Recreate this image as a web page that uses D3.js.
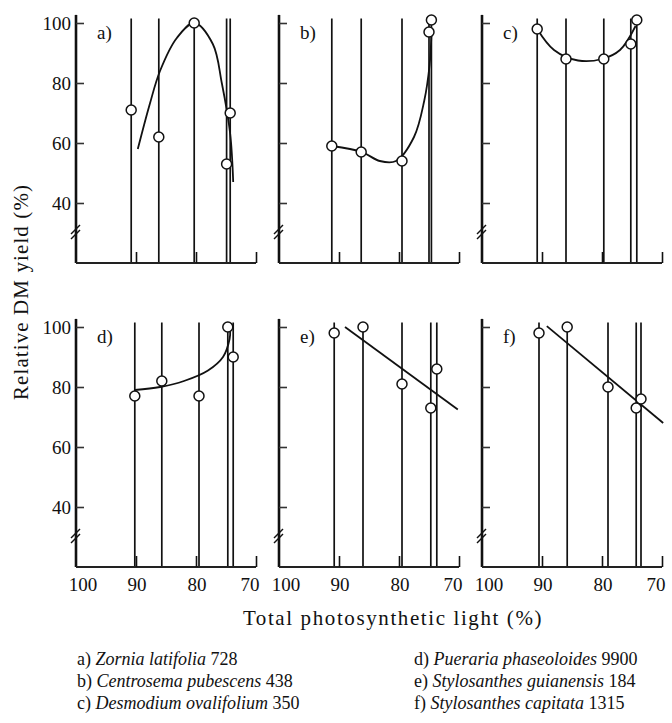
<!DOCTYPE html>
<html>
<head>
<meta charset="utf-8">
<script src="https://cdn.jsdelivr.net/npm/d3@7"></script>
<style>
  body { margin: 0; background: #fff; }
  text { font-family: "Liberation Serif", "DejaVu Serif", serif; fill: #111; }
</style>
</head>
<body>
<div id="chart"></div>
<script>
// Panel letters and tick values
const panelLabels = ["a)", "b)", "c)", "d)", "e)", "f)"];
const yTicks = [40, 60, 80, 100];
const xTicks = [100, 90, 80, 70];

// Observed points: light (%) and relative yield (%)
const lightA = [90.8, 86.2, 80.3, 74.3, 74.9];
const yieldA = [71, 62, 100, 70, 53];
const lightB = [91.2, 86.3, 79.5, 75.0, 74.6];
const yieldB = [59, 57, 54, 97, 101];
const lightC = [90.8, 86.0, 79.7, 75.2, 74.2];
const yieldC = [98, 88, 88, 93, 101];
const lightD = [90.2, 85.7, 79.5, 74.7, 73.8];
const yieldD = [77, 82, 77, 100, 90];
const lightE = [90.8, 86.0, 79.5, 74.7, 73.7];
const yieldE = [98, 100, 81, 73, 86];
const lightF = [90.5, 85.8, 79.0, 74.3, 73.5];
const yieldF = [98, 100, 80, 73, 76];

// Fitted curves as [light, yield]
const fitA = [[89.7, 58], [87.7, 73], [86, 84], [83.2, 95], [80.3, 100], [77.2, 93], [75.7, 80], [74.3, 63], [73.8, 47]];
const fitB = [[91.2, 59], [86.2, 57], [83.2, 54], [80.5, 54], [77.5, 62], [75.8, 74], [74.9, 86], [74.6, 96]];
const fitC = [[90.8, 98], [88, 91], [84, 87.5], [80, 88], [77, 91], [74.4, 99]];
const fitD = [[90.2, 79], [86, 80], [82, 82], [78, 85.5], [75.5, 90], [74.4, 96], [74.3, 99]];
const fitE = [[89.0, 100], [70.2, 72.5]];
const fitF = [[89.2, 100.3], [69.8, 68]];

// Legend
const legendKeys = ["a)", "b)", "c)", "d)", "e)", "f)"];
const legendSpecies = ["Zornia latifolia", "Centrosema pubescens", "Desmodium ovalifolium",
                       "Pueraria phaseoloides", "Stylosanthes guianensis", "Stylosanthes capitata"];
const legendNumbers = ["728", "438", "350", "9900", "184", "1315"];

const panels = [
    { label: panelLabels[0], light: lightA, yld: yieldA, fit: fitA },
    { label: panelLabels[1], light: lightB, yld: yieldB, fit: fitB },
    { label: panelLabels[2], light: lightC, yld: yieldC, fit: fitC },
    { label: panelLabels[3], light: lightD, yld: yieldD, fit: fitD },
    { label: panelLabels[4], light: lightE, yld: yieldE, fit: fitE },
    { label: panelLabels[5], light: lightF, yld: yieldF, fit: fitF },
];

const width = 672, height = 723;
const colX = [76, 279, 482];   // x of the y axis (light = 100)
const rowY = [23, 327];        // y of yield = 100
const panelW = 180;

const svg = d3.select("#chart").append("svg")
    .attr("width", width).attr("height", height);

panels.forEach((p, i) => {
    const col = i % 3, row = Math.floor(i / 3);
    const x0 = colX[col], y100 = rowY[row];
    const x = d3.scaleLinear().domain([100, 70]).range([x0, x0 + panelW]);
    const y = d3.scaleLinear().domain([20, 100]).range([y100 + 240, y100]);
    const g = svg.append("g");

    // vertical treatment lines
    g.selectAll("line.v").data(p.light).enter().append("line")
        .attr("x1", d => x(d)).attr("x2", d => x(d))
        .attr("y1", y(20)).attr("y2", y(101.5))
        .attr("stroke", "#111").attr("stroke-width", 1.7);

    // y axis line and ticks
    g.append("line")
        .attr("x1", x0).attr("x2", x0)
        .attr("y1", y(20)).attr("y2", y(102.7))
        .attr("stroke", "#111").attr("stroke-width", 2.6);
    const ya = g.append("g").attr("transform", `translate(${x0},0)`)
        .call(d3.axisRight(y).tickValues(yTicks).tickSize(8).tickFormat(""));
    ya.select(".domain").remove();
    ya.selectAll("line").attr("stroke", "#333").attr("stroke-width", 1.6);

    // axis break mark
    const yb = y(31);
    [0, 5].forEach(off => {
        g.append("line")
            .attr("x1", x0 - 5).attr("y1", yb + 4 + off)
            .attr("x2", x0 + 4).attr("y2", yb - 5 + off)
            .attr("stroke", "#111").attr("stroke-width", 1.4);
    });

    // x axis baseline and ticks
    g.append("line")
        .attr("x1", x0).attr("x2", x(70))
        .attr("y1", y(20)).attr("y2", y(20))
        .attr("stroke", "#222").attr("stroke-width", 2);
    const xa = g.append("g").attr("transform", `translate(0,${y(20)})`)
        .call(d3.axisTop(x).tickValues([90, 80, 70]).tickSize(11).tickFormat(""));
    xa.select(".domain").remove();
    xa.selectAll("line").attr("stroke", "#111").attr("stroke-width", 1.6);

    // fitted curve / line
    const line = d3.line()
        .x(d => x(d[0])).y(d => y(d[1]))
        .curve(p.fit.length > 2 ? d3.curveCatmullRom : d3.curveLinear);
    g.append("path").datum(p.fit)
        .attr("d", line).attr("fill", "none")
        .attr("stroke", "#111").attr("stroke-width", 1.8);

    // points
    g.selectAll("circle").data(p.light.map((d, k) => [d, p.yld[k]])).enter()
        .append("circle")
        .attr("cx", d => x(d[0])).attr("cy", d => y(d[1]))
        .attr("r", 5)
        .attr("fill", "#fff").attr("stroke", "#111").attr("stroke-width", 1.5);

    // panel letter
    g.append("text")
        .attr("x", x0 + 21).attr("y", y100 + 16)
        .style("font-size", "19px")
        .text(p.label);

    // y tick labels on the left column
    if (col === 0) {
        g.selectAll("text.yl").data(yTicks).enter().append("text")
            .attr("x", x0 - 5).attr("y", d => y(d))
            .attr("dy", "0.35em").attr("text-anchor", "end")
            .style("font-size", "19px")
            .text(d => d);
    }

    // x tick labels on the bottom row
    if (row === 1) {
        g.selectAll("text.xl").data(xTicks).enter().append("text")
            .attr("x", d => x(d) + (d === 100 ? 7 : d === 70 ? -6 : 1))
            .attr("y", y(20) + 17)
            .attr("dy", "0.35em").attr("text-anchor", "middle")
            .style("font-size", "19px")
            .text(d => d);
    }
});

// axis titles
svg.append("text")
    .attr("transform", "translate(21,292) rotate(-90)")
    .attr("text-anchor", "middle").attr("dy", "0.35em")
    .style("font-size", "21px").style("letter-spacing", "1.1px")
    .text("Relative DM yield (%)");

svg.append("text")
    .attr("x", 393).attr("y", 618)
    .attr("text-anchor", "middle").attr("dy", "0.35em")
    .style("font-size", "21px").style("letter-spacing", "1.6px")
    .text("Total photosynthetic light (%)");

// legend
const legendX = [77, 414];
const legendY = [659, 681, 703];
legendKeys.forEach((k, i) => {
    const t = svg.append("text")
        .attr("x", legendX[Math.floor(i / 3)])
        .attr("y", legendY[i % 3])
        .attr("dy", "0.35em")
        .style("font-size", "18px");
    t.append("tspan").text(k + " ");
    t.append("tspan").style("font-style", "italic").text(legendSpecies[i]);
    t.append("tspan").text(" " + legendNumbers[i]);
});
</script>
</body>
</html>
